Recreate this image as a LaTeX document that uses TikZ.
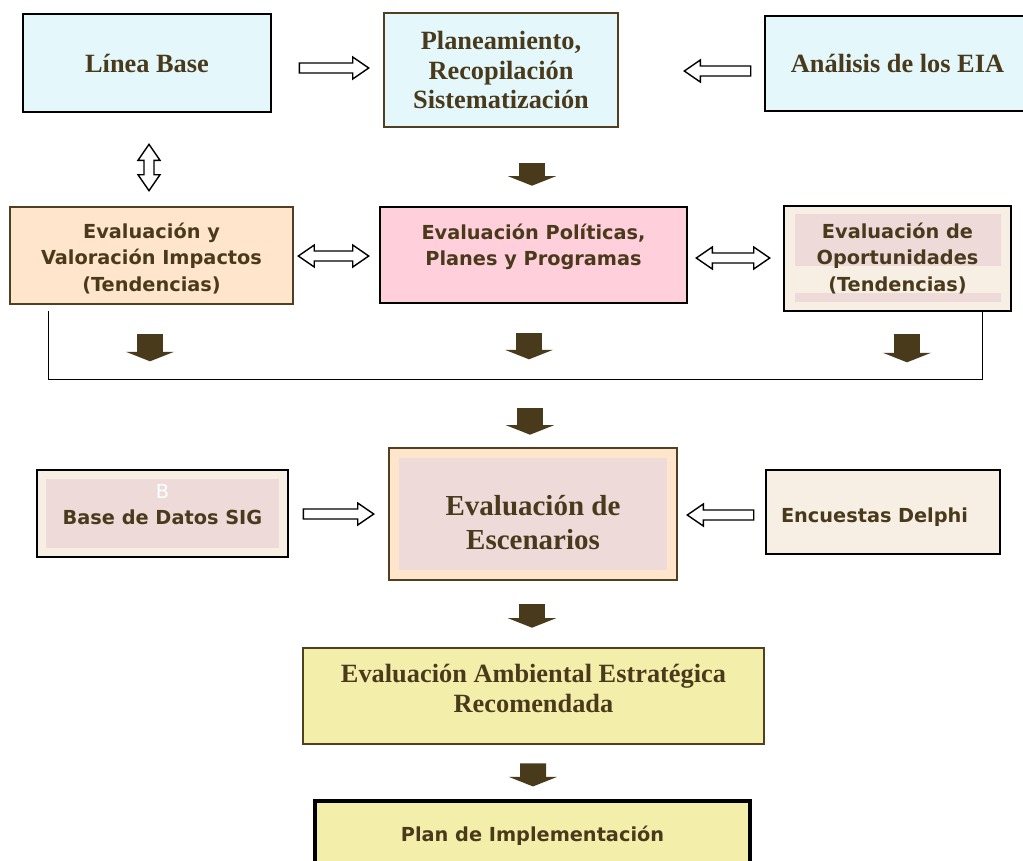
\documentclass[tikz,border=0pt]{standalone}
\usepackage{fontspec}
\setmainfont{Liberation Serif}
\setsansfont{DejaVu Sans}
\usetikzlibrary{arrows.meta,positioning,calc}

\definecolor{txtbrown}{RGB}{74,58,28}
\definecolor{linebrown}{RGB}{80,63,32}
\definecolor{cyanfill}{RGB}{228,248,252}
\definecolor{peach}{RGB}{255,229,203}
\definecolor{pinkfill}{RGB}{255,208,220}
\definecolor{cream}{RGB}{247,239,227}
\definecolor{pinkin}{RGB}{239,218,218}
\definecolor{yellowfill}{RGB}{243,239,170}

\begin{document}
\begin{tikzpicture}[
    x=0.02cm, y=-0.02cm,
    box/.style={rectangle, draw=black, line width=1.5pt, inner sep=0pt, align=center, text=txtbrown},
    brownbox/.style={box, draw=linebrown},
    serif/.style={font=\bfseries\fontsize{15}{17}\selectfont},
    sans/.style={font=\sffamily\bfseries\fontsize{11}{15}\selectfont},
    inset/.style={path picture={\fill[pinkin] ([shift={(#1,#1)}]path picture bounding box.north west) rectangle ([shift={(-#1,-#1)}]path picture bounding box.south east);}},
    flow/.style={draw=txtbrown, line width=0.52cm, -{Triangle[length=0.19cm, width=0.96cm, line width=0pt]}},
    hollow/.style={draw=black, fill=white, line width=0.8pt, to path={
        ($(\tikztotarget)!0.32cm!(\tikztostart)$) coordinate (hb)
        ($(\tikztostart)!0.1cm!90:(\tikztotarget)$) -- ($(hb)!0.1cm!90:(\tikztotarget)$) -- ($(hb)!0.22cm!90:(\tikztotarget)$)
        -- (\tikztotarget) -- ($(hb)!0.22cm!-90:(\tikztotarget)$) -- ($(hb)!0.1cm!-90:(\tikztotarget)$)
        -- ($(\tikztostart)!0.1cm!-90:(\tikztotarget)$) -- cycle}},
    hollowboth/.style={draw=black, fill=white, line width=0.8pt, to path={
        ($(\tikztostart)!0.32cm!(\tikztotarget)$) coordinate (ha)
        ($(\tikztotarget)!0.32cm!(\tikztostart)$) coordinate (hb)
        (\tikztostart) -- ($(ha)!0.22cm!90:(\tikztotarget)$) -- ($(ha)!0.1cm!90:(\tikztotarget)$)
        -- ($(hb)!0.1cm!90:(\tikztotarget)$) -- ($(hb)!0.22cm!90:(\tikztotarget)$) -- (\tikztotarget)
        -- ($(hb)!0.22cm!-90:(\tikztotarget)$) -- ($(hb)!0.1cm!-90:(\tikztotarget)$)
        -- ($(ha)!0.1cm!-90:(\tikztotarget)$) -- ($(ha)!0.22cm!-90:(\tikztotarget)$) -- cycle}},
    bracket/.style={draw=black, line width=0.8pt},
]
    \useasboundingbox (0,0) rectangle (1023,860);
    \clip (0,0) rectangle (1023,860);

    \node[box, serif, fill=cyanfill, minimum width=4.96cm, minimum height=1.96cm] (linea) at (147,63) {Línea Base};
    \node[brownbox, serif, fill=cyanfill, minimum width=4.68cm, minimum height=2.28cm] (plan) at (501,70) {Planeamiento,\\Recopilación\\Sistematización};
    \node[box, serif, fill=cyanfill, minimum width=5.3cm, minimum height=1.9cm] (eia) at (897.5,63.5) {Análisis de los EIA};

    \node[brownbox, sans, fill=peach, minimum width=5.66cm, minimum height=1.94cm] (impactos) at (151.5,255.5) {\rule{0pt}{12pt}Evaluación y\\Valoración Impactos\\(Tendencias)};
    \node[box, sans, fill=pinkfill, minimum width=6.14cm, minimum height=1.92cm] (polit) at (533.5,255) {Evaluación Políticas,\\Planes y Programas\\[-3pt]\mbox{}};
    \node[box, sans, fill=cream, minimum width=4.54cm, minimum height=2.1cm,
        path picture={
            \fill[pinkin] ([shift={(11,8)}]path picture bounding box.north west) rectangle ([shift={(-10,60)}]path picture bounding box.north east);
            \fill[pinkin] ([shift={(11,87)}]path picture bounding box.north west) rectangle ([shift={(-10,96)}]path picture bounding box.north east);
        }] (oport) at (897.5,258.5) {Evaluación de\\Oportunidades\\(Tendencias)};

    \node[box, sans, fill=cream, inset=9, minimum width=5.02cm, minimum height=1.74cm] (sig) at (162.5,513.5) {{\mdseries\color{white}B}\\Base de Datos SIG\\[-4.5pt]\mbox{}};
    \node[brownbox, font=\bfseries\fontsize{16.5}{19}\selectfont, fill=peach, inset=10, minimum width=5.76cm, minimum height=2.64cm] (esc) at (533,514) {\rule{0pt}{21pt}Evaluación de\\Escenarios};
    \node[box, sans, fill=cream, minimum width=4.68cm, minimum height=1.68cm, text width=4.08cm, align=left] (delphi) at (883,512) {\rule{0pt}{14pt}Encuestas Delphi};

    \node[brownbox, serif, fill=yellowfill, minimum width=9.22cm, minimum height=1.92cm] (eae) at (533.5,696) {Evaluación Ambiental Estratégica\\Recomendada\rule[-9pt]{0pt}{0pt}};
    \node[box, sans, fill=yellowfill, line width=1.8pt, minimum width=8.7cm, minimum height=1.38cm] (impl) at (532.5,835.5) {Plan de Implementación};

    \draw[hollow] ([shift={(27,5)}]linea.east) to ([shift={(-14,-2)}]plan.west);
    \draw[hollow] ([shift={(-13,7.5)}]eia.west) to ([shift={(65,1)}]plan.east);
    \draw[hollowboth] ([shift={(2,31)}]linea.south) to ([shift={(-2.5,-15)}]impactos.north);
    \draw[hollowboth] ([shift={(4,0.5)}]impactos.east) to ([shift={(-10,1)}]polit.west);
    \draw[hollowboth] ([shift={(8,3)}]polit.east) to ([shift={(-13,-0.5)}]oport.west);
    \draw[hollow] ([shift={(14,0.5)}]sig.east) to ([shift={(-14,0)}]esc.west);
    \draw[hollow] ([shift={(-11,3)}]delphi.west) to ([shift={(9,1)}]esc.east);

    \draw[flow] ([shift={(31,35)}]plan.south) -- ([shift={(-1.5,-20)}]polit.north);
    \draw[flow] ([shift={(-1.5,29)}]impactos.south) -- ++(0,27);
    \draw[flow] ([shift={(-4.5,29)}]polit.south) -- ++(0,26);
    \draw[flow] ([shift={(9.5,22)}]oport.south) -- ++(0,28);
    \draw[bracket] ([shift={(40,6)}]impactos.south west) |- ([shift={(-30,67)}]oport.south east) -- ++(0,-67);
    \draw[flow] ([shift={(-3,-39)}]esc.north) -- ([shift={(-3,-12)}]esc.north);
    \draw[flow] ([shift={(-1,23)}]esc.south) -- ([shift={(-1.5,-19)}]eae.north);
    \draw[flow] ([shift={(-0.5,18)}]eae.south) -- ([shift={(0.5,-13)}]impl.north);
\end{tikzpicture}
\end{document}
